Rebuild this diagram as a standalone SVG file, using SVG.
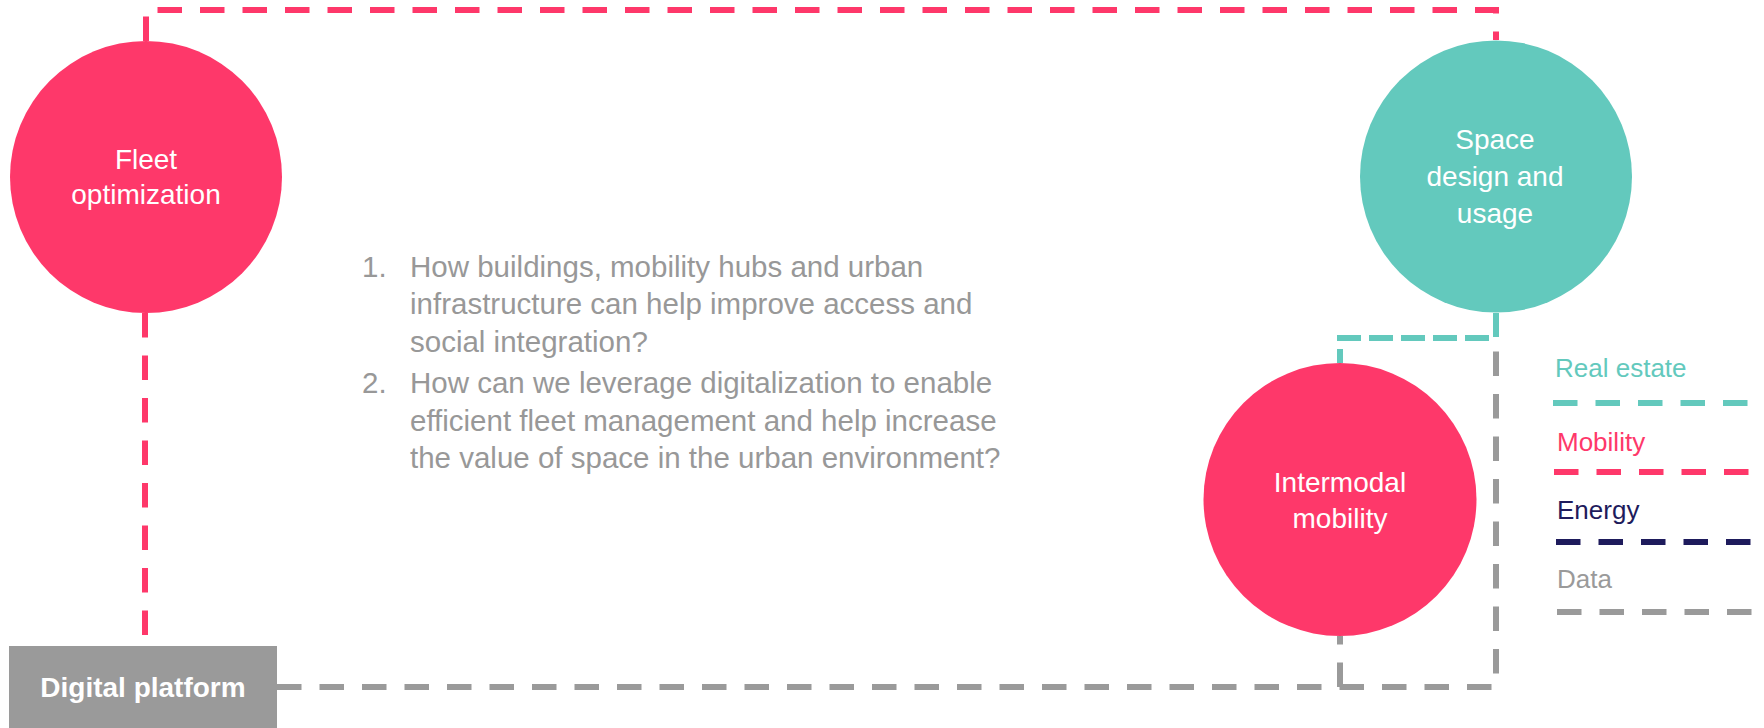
<svg xmlns="http://www.w3.org/2000/svg" width="1764" height="728" viewBox="0 0 1764 728">
  <style>
    .ln { fill: none; stroke-width: 6; stroke-dasharray: 24.5 18; }
    .pink { stroke: #FE386A; }
    .teal { stroke: #63C9BD; }
    .navy { stroke: #1E1B5C; }
    .gray { stroke: #9A9A9A; }
    .node-text { font-family: "Liberation Sans", Arial, sans-serif; font-size: 28px; fill: #FFFFFF; text-anchor: middle; }
    .list { font-family: "Liberation Sans", Arial, sans-serif; font-size: 29.5px; fill: #989898; }
    .legend { font-family: "Liberation Sans", Arial, sans-serif; font-size: 26px; }
  </style>
  <rect width="1764" height="728" fill="#FFFFFF"/>

  <g id="connectors">
    <path class="ln pink" d="M146,41 V10 H1496 V40"/>
    <path class="ln pink" d="M145,313 V646"/>
    <path class="ln teal" style="stroke-dasharray: 24 8" d="M1496,313 V338 H1340 V363"/>
    <path class="ln gray" d="M277,687 H1496 V340"/>
    <path class="ln gray" d="M1340,687 V636"/>
  </g>

  <g id="fleet-optimization">
    <circle cx="146" cy="177" r="136" fill="#FE386A"/>
    <text class="node-text" x="146" y="169">Fleet</text>
    <text class="node-text" x="146" y="204">optimization</text>
  </g>

  <g id="space-design">
    <circle cx="1496" cy="176.5" r="136" fill="#63C9BD"/>
    <text class="node-text" x="1495" y="149">Space</text>
    <text class="node-text" x="1495" y="186">design and</text>
    <text class="node-text" x="1495" y="223">usage</text>
  </g>

  <g id="intermodal-mobility">
    <circle cx="1340" cy="499.5" r="136.5" fill="#FE386A"/>
    <text class="node-text" x="1340" y="492">Intermodal</text>
    <text class="node-text" x="1340" y="528">mobility</text>
  </g>

  <g id="digital-platform">
    <rect x="9" y="646" width="268" height="82" fill="#9A9A9A"/>
    <text x="143" y="697" font-family="Liberation Sans, Arial, sans-serif" font-size="28" font-weight="bold" fill="#FFFFFF" text-anchor="middle">Digital platform</text>
  </g>

  <g id="questions" class="list">
    <text x="362" y="277">1.</text>
    <text x="410" y="277">How buildings, mobility hubs and urban</text>
    <text x="410" y="314">infrastructure can help improve access and</text>
    <text x="410" y="352">social integration?</text>
    <text x="362" y="393">2.</text>
    <text x="410" y="393">How can we leverage digitalization to enable</text>
    <text x="410" y="431">efficient fleet management and help increase</text>
    <text x="410" y="468">the value of space in the urban environment?</text>
  </g>

  <g id="legend">
    <text class="legend" x="1555" y="377" fill="#63C9BD">Real estate</text>
    <line class="ln teal" x1="1553" y1="403" x2="1750" y2="403"/>
    <text class="legend" x="1557" y="451" fill="#FE386A">Mobility</text>
    <line class="ln pink" x1="1554" y1="472" x2="1752" y2="472"/>
    <text class="legend" x="1557" y="519" fill="#1E1B5C">Energy</text>
    <line class="ln navy" x1="1556" y1="542" x2="1752" y2="542"/>
    <text class="legend" x="1557" y="588" fill="#9A9A9A">Data</text>
    <line class="ln gray" x1="1557" y1="612" x2="1752" y2="612"/>
  </g>
</svg>
